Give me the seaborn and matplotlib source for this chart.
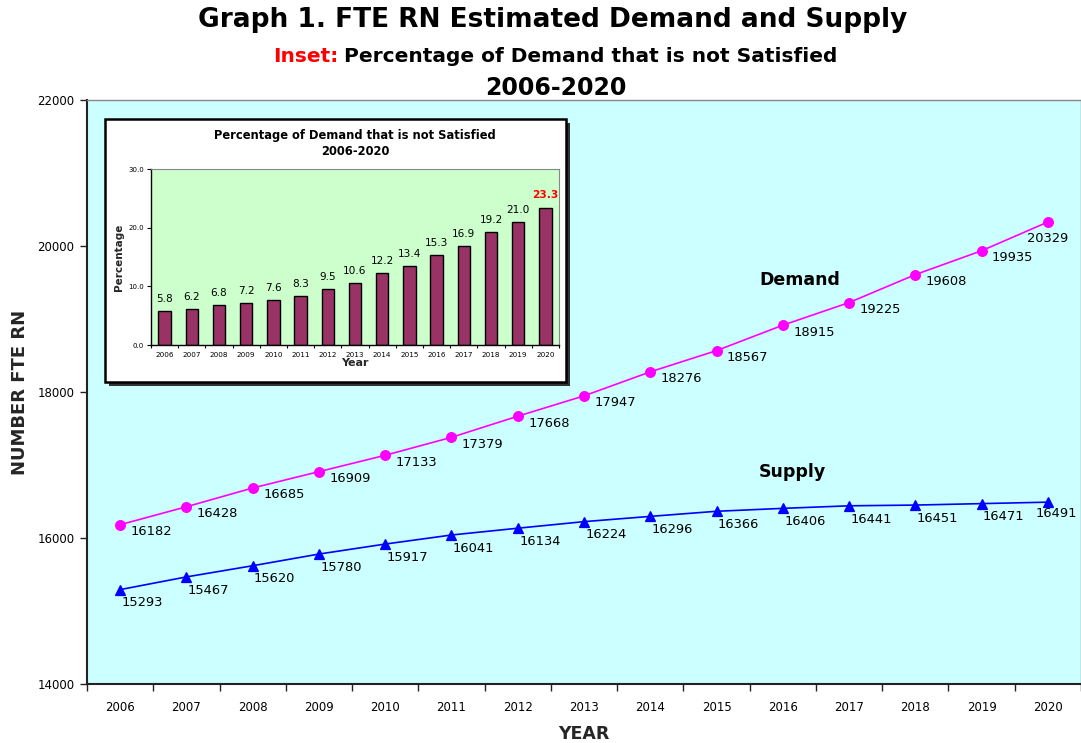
import numpy as np
import matplotlib
matplotlib.use("Agg")
import matplotlib.pyplot as plt
import seaborn as sns
from matplotlib.patches import Rectangle

# ===============================
# Data
# ===============================
years = [str(y) for y in range(2006, 2021)]
demand = [16182, 16428, 16685, 16909, 17133, 17379, 17668, 17947,
          18276, 18567, 18915, 19225, 19608, 19935, 20329]
supply = [15293, 15467, 15620, 15780, 15917, 16041, 16134, 16224,
          16296, 16366, 16406, 16441, 16451, 16471, 16491]
pct_unmet = [5.8, 6.2, 6.8, 7.2, 7.6, 8.3, 9.5, 10.6,
             12.2, 13.4, 15.3, 16.9, 19.2, 21.0, 23.3]

# ===============================
# Style
# ===============================
MAIN_BG = "#CCFFFF"
INSET_BG = "#CCFFCC"
DEMAND_C = "#FF00FF"
SUPPLY_C = "#0000FF"
BAR_C = "#993366"

sns.set_theme(style="white")
plt.rcParams["font.family"] = ["DejaVu Sans"]
plt.rcParams["text.color"] = "black"

W, H = 1081, 743
fig = plt.figure(figsize=(W / 100, H / 100), dpi=100)
fig.patch.set_facecolor("white")


def fx(px):
    return px / W


def fy(py):
    return 1 - py / H


# ===============================
# Main chart
# ===============================
ax = fig.add_axes([fx(87), fy(684), fx(1081 - 87), (684 - 100) / H])
ax.set_zorder(0)
ax.set_facecolor(MAIN_BG)

sns.pointplot(x=years, y=demand, color=DEMAND_C, markers="o", errorbar=None,
              markersize=7, linewidth=1.2, ax=ax)
sns.pointplot(x=years, y=supply, color=SUPPLY_C, markers="^", errorbar=None,
              markersize=7.5, linewidth=1.2, ax=ax)

ax.set_xlim(-0.5, len(years) - 0.5)
ax.set_ylim(14000, 22000)
ax.set_yticks(np.arange(14000, 22001, 2000))
ax.set_xticks(np.arange(-0.5, len(years), 1), minor=True)
ax.tick_params(axis="x", which="major", length=0, pad=12, labelsize=8.5, colors="black")
ax.tick_params(axis="x", which="minor", length=5, width=1, color="#222222", bottom=True)
ax.tick_params(axis="y", which="major", length=5, width=1, color="#222222",
               left=True, pad=4, labelsize=8.5, colors="black")
for s in ["left", "bottom"]:
    ax.spines[s].set_color("#222222")
    ax.spines[s].set_linewidth(1.5)
for s in ["top", "right"]:
    ax.spines[s].set_color("#888888")
    ax.spines[s].set_linewidth(1.0)

ax.set_xlabel("YEAR", fontsize=12.5, fontweight="bold", labelpad=8)
ax.set_ylabel("NUMBER FTE RN", fontsize=13, fontweight="bold", labelpad=6)

# point labels
LBL = 9.4
for i, v in enumerate(demand):
    if i == len(demand) - 1:
        ax.annotate(str(v), (i, v), xytext=(0, -12), textcoords="offset points",
                    ha="center", va="center", fontsize=LBL)
    else:
        ax.annotate(str(v), (i, v), xytext=(7.5, -5), textcoords="offset points",
                    ha="left", va="center", fontsize=LBL)
for i, v in enumerate(supply):
    if i == len(supply) - 1:
        ax.annotate(str(v), (i, v), xytext=(6, -8.5), textcoords="offset points",
                    ha="center", va="center", fontsize=LBL)
    else:
        ax.annotate(str(v), (i, v), xytext=(1, -9.5), textcoords="offset points",
                    ha="left", va="center", fontsize=LBL)

ax.text(fx(800), fy(280), "Demand", transform=fig.transFigure, ha="center",
        va="center", fontsize=12.5, fontweight="bold")
ax.text(fx(792), fy(472), "Supply", transform=fig.transFigure, ha="center",
        va="center", fontsize=12.5, fontweight="bold")

# ===============================
# Titles
# ===============================
fig.text(fx(553), fy(20), "Graph 1. FTE RN Estimated Demand and Supply",
         ha="center", va="center", fontsize=19, fontweight="bold")
fig.text(fx(338), fy(57), "Inset:", ha="right", va="center", fontsize=14.5,
         fontweight="bold", color="red")
fig.text(fx(344), fy(57), "Percentage of Demand that is not Satisfied",
         ha="left", va="center", fontsize=14.5, fontweight="bold")
fig.text(fx(556), fy(88), "2006-2020", ha="center", va="center",
         fontsize=17, fontweight="bold")

# ===============================
# Inset frame (with shadow)
# ===============================
shadow = Rectangle((fx(109), fy(386)), fx(566 - 105), (382 - 119) / H,
                   transform=fig.transFigure, facecolor="#333333",
                   edgecolor="none", zorder=1)
frame = Rectangle((fx(105), fy(382)), fx(566 - 105), (382 - 119) / H,
                  transform=fig.transFigure, facecolor="white",
                  edgecolor="black", linewidth=1.8, zorder=1.1)
fig.add_artist(shadow)
fig.add_artist(frame)

# ===============================
# Inset bar chart
# ===============================
iax = fig.add_axes([fx(151), fy(345), fx(559 - 151), (345 - 169) / H])
iax.set_zorder(2)
iax.set_facecolor(INSET_BG)

sns.barplot(x=years, y=pct_unmet, color=BAR_C, edgecolor="black",
            linewidth=1.0, width=0.45, saturation=1, ax=iax)
iax.set_xlim(-0.5, len(years) - 0.5)
iax.set_ylim(0, 30)
iax.set_yticks([0, 10, 20, 30])
iax.set_yticklabels([f"{t:.1f}" for t in [0, 10, 20, 30]])
iax.set_xticks(np.arange(-0.5, len(years), 1), minor=True)
iax.tick_params(axis="x", which="major", length=0, pad=5, labelsize=5.2, colors="black")
iax.tick_params(axis="x", which="minor", length=2.5, width=0.8, color="black", bottom=True)
iax.tick_params(axis="y", which="major", length=3, width=0.8, color="black",
                left=True, pad=2, labelsize=5, colors="black")
for s in ["left", "bottom"]:
    iax.spines[s].set_color("black")
    iax.spines[s].set_linewidth(1.0)
for s in ["top", "right"]:
    iax.spines[s].set_color("#888888")
    iax.spines[s].set_linewidth(0.8)

iax.set_xlabel("Year", fontsize=8, fontweight="bold", labelpad=0)
iax.set_ylabel("Percentage", fontsize=7.5, fontweight="bold", labelpad=3)
iax.set_title("Percentage of Demand that is not Satisfied\n2006-2020",
              fontsize=8.3, fontweight="bold", pad=10, linespacing=1.3)

for i, v in enumerate(pct_unmet):
    last = i == len(pct_unmet) - 1
    iax.annotate(f"{v:.1f}", (i, v), xytext=(0, 6 if last else 5),
                 textcoords="offset points", ha="center", va="bottom",
                 fontsize=7.6, fontweight="bold" if last else "normal",
                 color="red" if last else "black")

fig.savefig("out.png", dpi=100, facecolor="white")
